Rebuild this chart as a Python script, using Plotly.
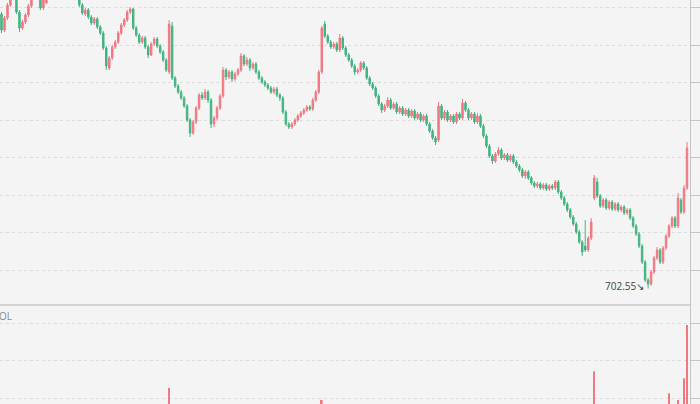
import plotly.graph_objects as go

open_ = [
    730.0, 728.4, 729.6, 730.9, 732.2, 732.0, 730.2, 728.6, 729.2, 729.9,
    730.8, 732.0, 732.8, 732.4, 730.6, 731.1, 732.1, 732.9, 733.8, 734.4,
    734.0, 734.8, 734.4, 733.6, 733.2, 732.6, 731.8, 730.9, 730.0, 730.4,
    729.7, 729.1, 729.5, 728.7, 728.1, 726.6, 724.6, 725.6, 726.7, 727.2,
    728.1, 728.9, 729.4, 730.2, 730.5, 728.6, 727.9, 727.2, 727.6, 726.7,
    725.9, 727.0, 727.5, 726.8, 726.2, 725.4, 724.2, 728.8, 723.6, 722.8,
    722.2, 721.6, 720.8, 719.4, 718.1, 719.2, 720.6, 721.9, 721.6, 722.2,
    721.4, 719.0, 719.6, 720.6, 721.8, 724.4, 723.7, 724.2, 723.5, 724.0,
    724.4, 725.8, 725.0, 725.4, 724.6, 725.0, 724.2, 723.6, 723.2, 722.9,
    722.6, 722.2, 722.5, 721.9, 721.6, 720.2, 719.0, 718.7, 719.0, 719.4,
    719.8, 720.1, 720.4, 720.7, 720.5, 721.4, 722.2, 724.2, 729.0, 727.8,
    727.2, 726.7, 727.0, 726.4, 727.6, 726.6, 725.9, 725.4, 724.8, 724.2,
    724.4, 725.1, 724.6, 723.6, 723.0, 722.6, 721.8, 721.0, 720.4, 720.8,
    721.4, 720.6, 721.0, 720.2, 720.6, 720.0, 720.4, 719.8, 720.3, 719.6,
    720.0, 719.4, 719.8, 719.0, 718.3, 717.6, 717.4, 720.8, 719.6, 720.2,
    719.4, 719.8, 719.2, 720.0, 719.6, 721.1, 720.4, 719.6, 720.0, 719.2,
    719.8, 718.8, 717.8, 716.8, 715.8, 715.3, 716.0, 716.4, 715.6, 715.9,
    715.4, 715.8, 715.2, 714.8, 714.4, 713.8, 714.2, 713.6, 713.1, 712.8,
    713.0, 712.6, 712.9, 712.5, 712.8, 712.6, 713.2, 712.2, 711.6, 711.0,
    710.4, 709.7, 709.0, 708.2, 707.2, 706.8, 706.4, 707.6, 711.6, 713.2,
    711.8, 710.8, 711.4, 710.6, 711.2, 710.5, 711.0, 710.4, 710.7, 710.1,
    710.4, 709.6, 708.8, 708.0, 706.8, 705.2, 703.4, 703.0, 704.2, 705.6,
    706.4, 705.2, 706.6, 707.8, 708.8, 709.6, 708.8, 711.4, 710.2, 712.6,
]
high = [
    730.2, 729.8, 731.1, 732.4, 733.0, 732.2, 730.4, 729.4, 730.1, 731.0,
    732.2, 733.0, 733.0, 732.6, 731.7, 732.3, 733.1, 734.0, 734.6, 734.6,
    735.0, 735.0, 734.6, 733.8, 733.4, 732.8, 732.0, 731.1, 730.6, 730.6,
    729.9, 729.7, 729.7, 728.9, 728.3, 726.8, 725.8, 726.9, 727.4, 728.3,
    729.1, 729.6, 730.4, 730.7, 730.6, 728.8, 728.1, 727.8, 727.8, 726.9,
    727.2, 727.7, 727.7, 727.0, 726.4, 725.6, 729.4, 729.2, 723.8, 723.0,
    722.4, 721.8, 721.0, 719.6, 719.4, 720.8, 722.1, 722.2, 722.5, 722.4,
    721.6, 719.8, 720.8, 722.0, 724.7, 724.6, 724.4, 724.4, 724.2, 724.6,
    726.1, 726.0, 725.7, 725.6, 725.2, 725.2, 724.4, 723.8, 723.4, 723.1,
    722.8, 722.7, 722.7, 722.1, 721.8, 720.4, 719.2, 719.2, 719.6, 720.0,
    720.3, 720.6, 720.9, 720.9, 721.6, 722.4, 724.4, 728.8, 729.3, 728.0,
    727.4, 727.2, 727.2, 728.0, 727.8, 726.8, 726.1, 725.6, 725.0, 724.6,
    725.3, 725.3, 724.8, 723.8, 723.2, 722.8, 722.0, 721.2, 721.0, 721.7,
    721.6, 721.2, 721.2, 720.8, 720.8, 720.6, 720.6, 720.5, 720.5, 720.2,
    720.2, 720.0, 720.0, 719.2, 718.5, 717.8, 721.2, 721.0, 720.4, 720.4,
    720.0, 720.0, 720.2, 720.2, 721.5, 721.3, 720.6, 720.2, 720.2, 720.1,
    720.0, 719.0, 718.0, 717.0, 716.0, 716.2, 716.7, 716.6, 716.1, 716.1,
    716.0, 716.0, 715.4, 715.0, 714.6, 714.4, 714.4, 713.8, 713.3, 713.2,
    713.2, 713.1, 713.1, 713.0, 713.0, 713.4, 713.4, 712.4, 711.8, 711.2,
    710.6, 709.9, 709.2, 708.4, 707.4, 709.4, 707.8, 709.6, 713.9, 713.6,
    712.0, 711.6, 711.6, 711.4, 711.4, 711.2, 711.2, 710.9, 710.9, 710.6,
    710.6, 709.8, 709.0, 708.2, 707.0, 705.4, 703.6, 704.4, 705.8, 706.7,
    706.6, 706.8, 708.0, 709.0, 709.8, 709.8, 712.1, 711.6, 712.9, 717.2,
]
low = [
    728.1, 728.2, 729.4, 730.7, 732.0, 730.0, 728.2, 728.4, 729.0, 729.7,
    730.6, 731.8, 732.2, 730.4, 730.4, 731.0, 731.9, 732.7, 733.6, 733.8,
    733.8, 734.2, 733.4, 733.0, 732.4, 731.6, 730.7, 729.9, 729.8, 729.5,
    728.9, 728.9, 728.5, 727.9, 726.4, 724.4, 724.4, 725.4, 726.5, 727.0,
    727.9, 728.7, 729.2, 730.0, 728.4, 727.7, 727.0, 727.0, 726.5, 725.6,
    725.8, 726.8, 726.6, 726.0, 725.2, 724.2, 724.0, 723.4, 722.6, 722.0,
    721.4, 720.6, 719.2, 717.7, 717.9, 719.0, 720.4, 721.4, 721.4, 721.1,
    718.6, 718.7, 719.4, 720.4, 721.6, 723.4, 723.5, 723.2, 723.3, 723.8,
    724.2, 724.8, 724.8, 724.3, 724.4, 724.0, 723.4, 723.0, 722.7, 722.4,
    722.0, 722.0, 721.7, 721.3, 720.0, 718.8, 718.5, 718.5, 718.8, 719.2,
    719.6, 719.9, 720.2, 720.3, 720.3, 721.2, 722.0, 724.0, 727.6, 727.0,
    726.5, 726.5, 726.2, 726.2, 726.4, 725.7, 725.2, 724.6, 723.9, 724.0,
    724.2, 724.4, 723.4, 722.8, 722.4, 721.6, 720.8, 720.1, 720.2, 720.6,
    720.4, 720.4, 720.0, 720.0, 719.8, 719.8, 719.6, 719.6, 719.4, 719.4,
    719.2, 719.2, 718.8, 718.1, 717.4, 716.9, 717.2, 719.4, 719.4, 719.2,
    719.2, 719.0, 719.0, 719.4, 719.4, 720.2, 719.4, 719.4, 719.0, 719.0,
    718.6, 717.6, 716.6, 715.6, 715.0, 715.1, 715.8, 715.4, 715.4, 715.2,
    715.2, 715.0, 714.6, 714.2, 713.6, 713.5, 713.4, 712.9, 712.6, 712.6,
    712.4, 712.4, 712.3, 712.3, 712.4, 712.4, 712.0, 711.4, 710.8, 710.2,
    709.5, 708.8, 708.0, 707.0, 705.8, 706.2, 706.2, 707.4, 711.4, 711.6,
    710.6, 710.6, 710.4, 710.4, 710.3, 710.3, 710.2, 710.2, 709.9, 709.9,
    709.4, 708.6, 707.8, 706.6, 705.0, 703.2, 702.55, 702.8, 704.0, 705.4,
    705.0, 705.0, 706.4, 707.6, 708.6, 708.6, 708.6, 710.0, 710.0, 712.4,
]
close = [
    728.4, 729.6, 730.9, 732.2, 732.8, 730.2, 728.6, 729.2, 729.9, 730.8,
    732.0, 732.8, 732.4, 730.6, 731.5, 732.1, 732.9, 733.8, 734.4, 734.0,
    734.8, 734.4, 733.6, 733.2, 732.6, 731.8, 730.9, 730.1, 730.4, 729.7,
    729.1, 729.5, 728.7, 728.1, 726.6, 724.8, 725.6, 726.7, 727.2, 728.1,
    728.9, 729.4, 730.2, 730.5, 728.6, 727.9, 727.2, 727.6, 726.7, 725.9,
    727.0, 727.5, 726.8, 726.2, 725.4, 724.4, 729.0, 723.6, 722.8, 722.2,
    721.6, 720.8, 719.4, 718.1, 719.2, 720.6, 721.9, 721.6, 722.2, 721.4,
    719.0, 719.6, 720.6, 721.8, 724.4, 723.7, 724.2, 723.5, 724.0, 724.4,
    725.8, 725.0, 725.4, 724.6, 725.0, 724.2, 723.6, 723.2, 722.9, 722.6,
    722.2, 722.5, 721.9, 721.6, 720.2, 719.0, 718.7, 719.0, 719.4, 719.8,
    720.1, 720.4, 720.7, 720.5, 721.4, 722.2, 724.2, 728.6, 727.8, 727.2,
    726.7, 727.0, 726.4, 727.6, 726.6, 725.9, 725.4, 724.8, 724.2, 724.4,
    725.1, 724.6, 723.6, 723.0, 722.6, 721.8, 721.0, 720.4, 720.8, 721.4,
    720.6, 721.0, 720.2, 720.6, 720.0, 720.4, 719.8, 720.3, 719.6, 720.0,
    719.4, 719.8, 719.0, 718.3, 717.6, 717.2, 720.8, 719.6, 720.2, 719.4,
    719.8, 719.2, 720.0, 719.6, 721.1, 720.4, 719.6, 720.0, 719.2, 719.8,
    718.8, 717.8, 716.8, 715.8, 715.3, 716.0, 716.4, 715.6, 715.9, 715.4,
    715.8, 715.2, 714.8, 714.4, 713.8, 714.2, 713.6, 713.1, 712.8, 713.0,
    712.6, 712.9, 712.5, 712.8, 712.6, 713.2, 712.2, 711.6, 711.0, 710.4,
    709.7, 709.0, 708.2, 707.2, 706.2, 706.4, 707.6, 709.2, 713.6, 711.8,
    710.8, 711.4, 710.6, 711.2, 710.5, 711.0, 710.4, 710.7, 710.1, 710.4,
    709.6, 708.8, 708.0, 706.8, 705.2, 703.4, 703.0, 704.2, 705.6, 706.4,
    705.2, 706.6, 707.8, 708.8, 709.6, 708.8, 711.6, 710.2, 712.6, 716.6,
]
volume = [
    5.2, 4.1, 3.8, 4.6, 3.3, 4.9, 5.6, 3.1, 2.8, 3.7,
    4.4, 3.9, 2.6, 4.8, 3.2, 2.9, 3.5, 4.2, 3.0, 2.4,
    3.6, 2.7, 2.5, 3.1, 2.2, 3.8, 4.5, 3.4, 2.6, 3.0,
    2.8, 2.3, 3.3, 3.6, 5.1, 6.2, 4.7, 3.9, 3.0, 3.4,
    3.1, 2.7, 3.5, 2.9, 4.6, 3.2, 2.8, 2.5, 3.0, 3.7,
    3.3, 2.6, 2.4, 2.9, 3.5, 4.1, 12.7, 7.2, 4.4, 3.8,
    3.6, 3.2, 4.8, 5.9, 4.3, 3.7, 3.4, 2.6, 2.9, 3.1,
    5.0, 3.6, 3.2, 3.9, 6.4, 3.5, 2.7, 2.5, 2.8, 2.6,
    4.2, 3.1, 2.4, 2.8, 2.3, 2.6, 2.9, 2.5, 2.2, 2.4,
    2.7, 2.1, 2.5, 2.8, 4.0, 4.6, 3.7, 3.0, 2.6, 2.4,
    2.3, 2.5, 2.2, 2.1, 3.2, 3.8, 6.1, 9.5, 6.8, 4.2,
    3.6, 2.9, 3.1, 4.5, 3.3, 2.8, 2.6, 2.9, 3.2, 2.4,
    2.7, 2.3, 3.0, 2.8, 2.5, 3.1, 3.3, 3.0, 2.4, 2.6,
    2.2, 2.0, 2.5, 2.1, 2.3, 1.9, 2.4, 2.0, 2.2, 1.8,
    2.1, 1.9, 2.6, 3.1, 3.5, 3.9, 6.6, 3.8, 2.9, 2.5,
    2.3, 2.2, 2.6, 2.1, 4.3, 3.0, 2.7, 2.2, 2.5, 2.3,
    2.8, 3.2, 3.6, 3.9, 3.1, 2.8, 2.5, 2.4, 2.1, 2.3,
    2.0, 2.2, 2.6, 2.4, 2.9, 2.3, 2.5, 2.7, 2.4, 2.0,
    2.2, 1.9, 2.1, 1.8, 2.0, 2.4, 2.9, 3.1, 3.4, 3.6,
    3.9, 4.1, 4.6, 5.2, 6.0, 5.5, 4.8, 5.7, 17.1, 6.9,
    4.6, 3.8, 3.2, 2.9, 2.7, 2.5, 2.8, 2.3, 2.6, 2.4,
    3.0, 3.6, 4.1, 4.9, 5.8, 7.1, 7.8, 6.3, 5.4, 4.6,
    3.9, 4.4, 5.1, 11.3, 6.2, 5.0, 9.5, 7.4, 15.3, 29.5,
]
low_label = "702.55"

RED = "#f07880"
GREEN = "#43b381"
BG = "#f4f4f4"
GRID = "#dcdcdc"
AXIS = "#c4c4c4"

bars = list(range(len(close)))
vol_colors = [RED if c >= o else GREEN for o, c in zip(open_, close)]
low_idx = low.index(min(low))

W, H = 700, 404
SPLIT = 305  # pixel row of pane separator
split_frac = (H - SPLIT) / H

fig = go.Figure()
fig.add_trace(go.Candlestick(
    x=bars, open=open_, high=high, low=low, close=close,
    increasing=dict(line=dict(color=RED, width=1), fillcolor=RED),
    decreasing=dict(line=dict(color=GREEN, width=1), fillcolor=GREEN),
    whiskerwidth=0, showlegend=False, hoverinfo="skip",
    xaxis="x", yaxis="y",
))
fig.add_trace(go.Bar(
    x=bars, y=volume, marker=dict(color=vol_colors, line=dict(width=0)),
    showlegend=False, hoverinfo="skip", xaxis="x", yaxis="y2",
))

fig.update_layout(
    width=W, height=H,
    margin=dict(l=0, r=10, t=0, b=0),
    paper_bgcolor=BG, plot_bgcolor=BG,
    bargap=0.45,
    xaxis=dict(range=[-0.5, 230], showgrid=False, zeroline=False,
               showticklabels=False, rangeslider=dict(visible=False),
               showline=False, fixedrange=True),
    yaxis=dict(domain=[split_frac, 1], range=[700.9, 731.4], side="right",
               showgrid=True, gridcolor=GRID, griddash="dot", gridwidth=1,
               tick0=704.4, dtick=3.75, zeroline=False,
               showline=True, linecolor=AXIS, linewidth=1,
               ticks="outside", ticklen=10, tickcolor=AXIS,
               showticklabels=False),
    yaxis2=dict(domain=[0, split_frac], range=[8.4, 34.8], side="right",
                showgrid=True, gridcolor=GRID, griddash="dot", gridwidth=1,
                tick0=0, dtick=10, zeroline=False,
                showline=True, linecolor=AXIS, linewidth=1,
                ticks="outside", ticklen=10, tickcolor=AXIS,
                showticklabels=False),
    shapes=[dict(type="line", xref="paper", yref="paper", x0=0, x1=1,
                 y0=split_frac, y1=split_frac,
                 line=dict(color="#b4b4b4", width=1))],
    annotations=[
        dict(text="VOL", xref="paper", yref="paper", x=-9 / 690,
             y=(H - 316) / H, xanchor="left", yanchor="middle",
             showarrow=False, font=dict(size=10, color="#8a8a8a",
                                        family="Open Sans")),
        dict(text=low_label + "↘", xref="x", yref="y", x=low_idx,
             y=min(low), xanchor="right", yanchor="middle", xshift=-2,
             yshift=3, showarrow=False,
             font=dict(size=10, color="#444444", family="Open Sans")),
    ],
)

fig.write_html(
    "out.html",
    config={"displayModeBar": False},
    post_script="document.body.style.margin='0';"
                "document.body.style.background='#f4f4f4';"
                "document.body.style.overflow='hidden';",
)
